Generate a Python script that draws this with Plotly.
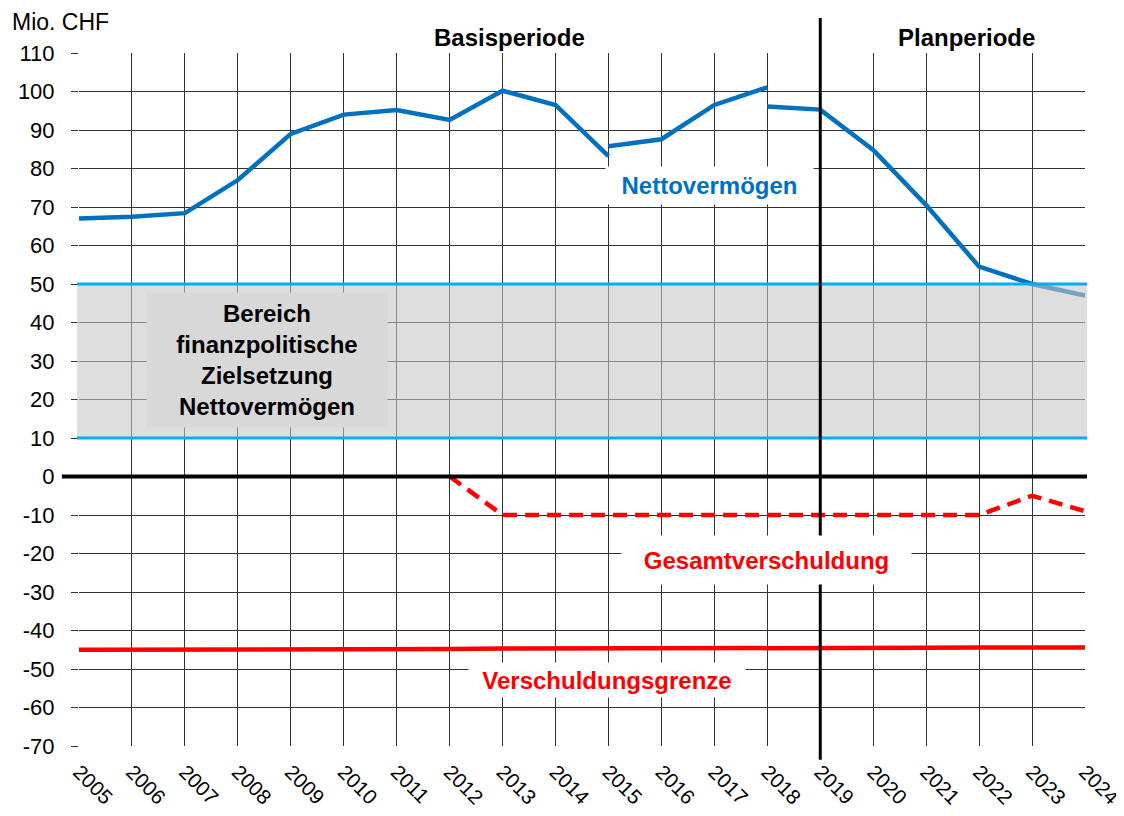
import plotly.graph_objects as go

years = list(range(2005, 2025))
year_labels = [str(y) for y in years]

# Nettovermögen, drawn in three pieces as in the original
nv1_years = [2005, 2006, 2007, 2008, 2009, 2010, 2011, 2012, 2013, 2014, 2015]
nv1_values = [67, 67.5, 68.4, 77, 89, 94, 95.2, 92.6, 100.2, 96.5, 83.2]
nv2_years = [2015, 2016, 2017, 2018]
nv2_values = [85.8, 87.6, 96.5, 101.1]
nv3_years = [2018, 2019, 2020, 2021, 2022, 2023, 2024]
nv3_values = [96.1, 95.3, 84.8, 70.5, 54.5, 50.0, 47.0]

# Gesamtverschuldung (dashed)
gv_years = [2012, 2013, 2014, 2015, 2016, 2017, 2018, 2019, 2020, 2021, 2022, 2023, 2024]
gv_values = [0, -10, -10, -10, -10, -10, -10, -10, -10, -10, -10, -5, -9]

# Verschuldungsgrenze
vg_years = years
vg_values = [-45.0, -45.0, -44.9, -44.9, -44.9, -44.8, -44.8, -44.8, -44.7, -44.7,
             -44.7, -44.6, -44.6, -44.6, -44.5, -44.5, -44.5, -44.4, -44.4, -44.4]

band_low, band_high = 10, 50
y_ticks = list(range(-70, 111, 10))
y_tick_labels = [str(v) for v in y_ticks]

FONT = "Arial, Liberation Sans, sans-serif"
BLUE = "#0070C0"
RED = "#FF0000"
CYAN = "#00B0F0"

fig = go.Figure()

fig.add_trace(go.Scatter(x=vg_years, y=vg_values, mode="lines",
                         line=dict(color=RED, width=4.5), hoverinfo="skip"))
fig.add_trace(go.Scatter(x=gv_years, y=gv_values, mode="lines",
                         line=dict(color=RED, width=4.5, dash="14px,8px"), hoverinfo="skip"))
for xs, ys in [(nv1_years, nv1_values), (nv2_years, nv2_values), (nv3_years, nv3_values)]:
    fig.add_trace(go.Scatter(x=xs, y=ys, mode="lines",
                             line=dict(color=BLUE, width=4.5), hoverinfo="skip"))

shapes = [
    dict(type="rect", xref="paper", yref="y", x0=-0.002, x1=1.002, y0=band_low, y1=band_high,
         fillcolor="rgba(198,198,198,0.58)", line=dict(width=0), layer="above"),
    dict(type="line", xref="paper", yref="y", x0=-0.002, x1=1.002, y0=band_high, y1=band_high,
         line=dict(color=CYAN, width=3), layer="above"),
    dict(type="line", xref="paper", yref="y", x0=-0.002, x1=1.002, y0=band_low, y1=band_low,
         line=dict(color=CYAN, width=3), layer="above"),
    dict(type="line", xref="paper", yref="y", x0=-0.017, x1=1.002, y0=0, y1=0,
         line=dict(color="black", width=4), layer="above"),
    dict(type="line", xref="x", yref="paper", x0=2019, x1=2019, y0=-0.02, y1=1.0505,
         line=dict(color="black", width=3), layer="above"),
]

annotations = [
    dict(text="Mio. CHF", xref="paper", yref="paper", x=-0.0686, y=1.0447,
         xanchor="left", yanchor="middle", showarrow=False,
         font=dict(family=FONT, size=23, color="black")),
    dict(text="<b>Basisperiode</b>", xref="x", yref="paper", x=2013.14, y=1.0447,
         showarrow=False, font=dict(family=FONT, size=24, color="black")),
    dict(text="<b>Planperiode</b>", xref="x", yref="paper", x=2021.77, y=1.0447,
         showarrow=False, font=dict(family=FONT, size=24, color="black")),
    dict(text="<b>Bereich<br>finanzpolitische<br>Zielsetzung<br>Nettovermögen</b>",
         xref="x", yref="y", x=2008.55, y=30.26, showarrow=False,
         font=dict(family=FONT, size=24, color="black"),
         bgcolor="#D8D8D8", borderpad=0, width=240, height=134, align="center"),
    dict(text="<b>Nettovermögen</b>", xref="x", yref="y", x=2016.9, y=75.7, showarrow=False,
         font=dict(family=FONT, size=24, color=BLUE), bgcolor="white", borderpad=0,
         width=207, height=37),
    dict(text="<b>Gesamtverschuldung</b>", xref="x", yref="y", x=2017.98, y=-21.7, showarrow=False,
         font=dict(family=FONT, size=24, color=RED), bgcolor="white", borderpad=0,
         width=289, height=48),
    dict(text="<b>Verschuldungsgrenze</b>", xref="x", yref="y", x=2014.97, y=-52.9, showarrow=False,
         font=dict(family=FONT, size=24, color=RED), bgcolor="white", borderpad=0,
         width=276, height=34),
]

fig.update_layout(
    width=1116, height=808,
    margin=dict(l=71, r=39, t=45, b=70, autoexpand=False),
    paper_bgcolor="white", plot_bgcolor="white",
    showlegend=False,
    font=dict(family=FONT, size=22, color="black"),
    shapes=shapes, annotations=annotations,
)
fig.update_xaxes(range=[2005, 2024], tickvals=years, ticktext=year_labels, tickangle=45,
                 showgrid=True, gridcolor="#333333", gridwidth=1, zeroline=False,
                 showline=False, ticks="", ticklabelstandoff=9, automargin=False,
                 ticklabeloverflow="allow",
                 tickfont=dict(family=FONT, size=20.5, color="black"))
fig.update_yaxes(range=[-70, 110], tickvals=y_ticks, ticktext=y_tick_labels,
                 showgrid=True, gridcolor="#333333",
                 gridwidth=1, zeroline=False, showline=False, ticks="outside", ticklen=7,
                 tickcolor="#333333", ticklabelstandoff=12, automargin=False,
                 tickfont=dict(family=FONT, size=22, color="black"))

fig.write_html("out.html")
